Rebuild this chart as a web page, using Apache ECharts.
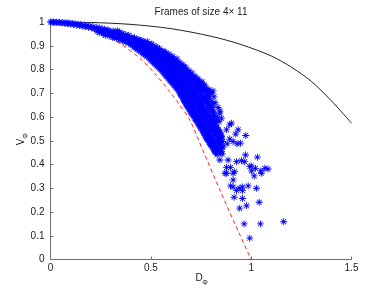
<!DOCTYPE html>
<html>
<head>
<meta charset="utf-8">
<script src="https://cdn.jsdelivr.net/npm/echarts@6/dist/echarts.min.js"></script>
<style>
html,body{margin:0;padding:0;background:#fff;}
#chart{width:389px;height:292px;}
</style>
</head>
<body>
<div id="chart"></div>
<script>
// ---- data ----
const titleText = 'Frames of size 4\u00d7 11';
const xTickValues = [0, 0.5, 1, 1.5];
const yTickValues = [0, 0.1, 0.2, 0.3, 0.4, 0.5, 0.6, 0.7, 0.8, 0.9, 1];

// black solid upper curve
const upperCurve = [[0,1],[0.2,0.998],[0.4,0.99],[0.6,0.972],[0.8,0.94],[0.95,0.905],[1.1,0.857],[1.2,0.81],[1.3,0.75],[1.4,0.668],[1.5,0.574]];
// red dashed lower curve
const lowerCurve = [[0,1],[0.12,0.987],[0.254,0.953],[0.345,0.91],[0.455,0.84],[0.528,0.775],[0.594,0.707],[0.644,0.65],[0.694,0.588],[0.759,0.46],[0.843,0.295],[0.92,0.148],[1,0]];

// dense band of frames
const denseFrames = [
[0,1],[0.008,0.999],[0.015,1],[0.022,0.998],[0.03,0.999],[0.038,0.997],[0.045,0.999],[0.055,0.996],[0.062,0.998],[0.07,0.995],[0.078,0.997],[0.085,0.993],[0.092,0.996],[0.1,0.992],[0.108,0.995],[0.115,0.99],[0.122,0.993],[0.13,0.987],[0.138,0.991],[0.145,0.985],[0.152,0.989],[0.16,0.983],[0.168,0.987],[0.175,0.98],[0.182,0.985],[0.19,0.978],[0.198,0.983],[0.205,0.975],[0.212,0.98],[0.22,0.972],[0.228,0.978],[0.236,0.969],[0.244,0.975],[0.25,0.966],[0.258,0.972],[0.27,0.969],[0.285,0.966],
[0.232,0.961],[0.255,0.958],[0.278,0.962],[0.30,0.957],[0.322,0.96],[0.345,0.956],
[0.262,0.951],[0.285,0.948],[0.308,0.952],[0.33,0.947],[0.352,0.95],[0.375,0.946],
[0.292,0.941],[0.315,0.938],[0.338,0.942],[0.36,0.937],[0.382,0.94],[0.405,0.936],
[0.33,0.931],[0.352,0.928],[0.375,0.932],[0.397,0.927],[0.418,0.93],[0.44,0.926],
[0.36,0.921],[0.382,0.918],[0.405,0.922],[0.427,0.917],[0.448,0.92],[0.468,0.915],
[0.39,0.911],[0.412,0.908],[0.434,0.912],[0.456,0.907],[0.476,0.91],[0.492,0.905],
[0.41,0.901],[0.432,0.898],[0.454,0.902],[0.476,0.897],[0.497,0.9],[0.515,0.895],
[0.422,0.891],[0.445,0.888],[0.468,0.892],[0.49,0.887],[0.512,0.89],[0.535,0.885],
[0.44,0.881],[0.462,0.878],[0.485,0.882],[0.507,0.877],[0.53,0.88],[0.553,0.876],
[0.456,0.871],[0.478,0.868],[0.5,0.872],[0.522,0.867],[0.545,0.87],[0.568,0.866],
[0.47,0.861],[0.492,0.858],[0.515,0.862],[0.538,0.857],[0.56,0.86],[0.584,0.856],
[0.49,0.851],[0.512,0.848],[0.534,0.852],[0.556,0.847],[0.578,0.85],[0.6,0.846],
[0.50,0.841],[0.522,0.838],[0.545,0.842],[0.568,0.837],[0.59,0.84],[0.614,0.836],
[0.512,0.831],[0.535,0.828],[0.558,0.832],[0.58,0.827],[0.603,0.83],[0.628,0.826],
[0.525,0.821],[0.548,0.818],[0.57,0.822],[0.593,0.817],[0.616,0.82],[0.643,0.816],
[0.536,0.811],[0.558,0.808],[0.58,0.812],[0.604,0.807],[0.628,0.81],[0.658,0.806],
[0.55,0.801],[0.572,0.798],[0.595,0.802],[0.618,0.797],[0.642,0.8],[0.672,0.796],
[0.56,0.791],[0.583,0.788],[0.606,0.792],[0.63,0.787],[0.655,0.79],[0.683,0.786],
[0.57,0.781],[0.593,0.778],[0.617,0.782],[0.64,0.777],[0.665,0.78],[0.693,0.776],
[0.58,0.771],[0.603,0.768],[0.627,0.772],[0.65,0.767],[0.676,0.77],[0.704,0.766],
[0.59,0.761],[0.613,0.758],[0.637,0.762],[0.66,0.757],[0.686,0.76],[0.714,0.756],
[0.60,0.751],[0.623,0.748],[0.647,0.752],[0.672,0.747],[0.698,0.75],[0.728,0.746],
[0.61,0.741],[0.634,0.738],[0.658,0.742],[0.683,0.737],[0.71,0.74],[0.738,0.736],
[0.62,0.731],[0.644,0.728],[0.668,0.732],[0.693,0.727],[0.72,0.73],[0.748,0.726],
[0.63,0.721],[0.654,0.718],[0.678,0.722],[0.703,0.717],[0.73,0.72],[0.758,0.716],
[0.64,0.711],[0.664,0.708],[0.688,0.712],[0.714,0.707],[0.742,0.71],[0.77,0.706],
[0.646,0.701],[0.67,0.698],[0.695,0.702],[0.72,0.697],[0.748,0.7],[0.78,0.696],
[0.652,0.691],[0.676,0.688],[0.7,0.692],[0.726,0.687],[0.754,0.69],[0.79,0.686],
[0.66,0.681],[0.684,0.678],[0.708,0.682],[0.734,0.677],[0.762,0.68],
[0.665,0.671],[0.69,0.668],[0.715,0.672],[0.742,0.667],[0.772,0.67],[0.8,0.666],
[0.672,0.661],[0.697,0.658],[0.722,0.662],[0.75,0.657],[0.78,0.66],
[0.678,0.651],[0.703,0.648],[0.73,0.652],[0.757,0.647],[0.79,0.65],[0.81,0.655],
[0.686,0.641],[0.71,0.638],[0.737,0.642],[0.765,0.637],[0.795,0.64],
[0.694,0.631],[0.718,0.628],[0.745,0.632],[0.772,0.627],[0.80,0.63],
[0.70,0.621],[0.726,0.618],[0.752,0.622],[0.78,0.617],[0.815,0.62],
[0.708,0.611],[0.734,0.608],[0.76,0.612],[0.788,0.607],
[0.716,0.601],[0.742,0.598],[0.768,0.602],[0.796,0.597],[0.83,0.6],
[0.724,0.591],[0.75,0.588],[0.776,0.592],[0.805,0.587],
[0.73,0.581],[0.756,0.578],[0.784,0.582],[0.812,0.577],[0.84,0.58],
[0.738,0.571],[0.764,0.568],[0.79,0.572],[0.82,0.567],
[0.745,0.561],[0.77,0.558],[0.798,0.562],[0.826,0.557],
[0.752,0.551],[0.778,0.548],[0.805,0.552],[0.835,0.547],
[0.76,0.541],[0.785,0.538],[0.812,0.542],[0.84,0.537],
[0.766,0.531],[0.792,0.528],[0.82,0.532],[0.848,0.527],
[0.772,0.521],[0.798,0.518],[0.825,0.522],[0.852,0.517],
[0.778,0.511],[0.804,0.508],[0.832,0.512],
[0.786,0.501],[0.81,0.498],[0.838,0.502],[0.858,0.497],
[0.794,0.491],[0.82,0.488],[0.845,0.492],
[0.80,0.481],[0.826,0.478],[0.852,0.482],
[0.81,0.471],[0.836,0.468],[0.858,0.472],
[0.816,0.461],[0.842,0.458],
[0.822,0.451],[0.85,0.448],
[0.83,0.441],[0.856,0.445]
];

// frames lying between the rows of the band above
const denseFramesFill = [
[0.245,0.964],[0.268,0.965],[0.29,0.963],[0.312,0.962],[0.335,0.963],
[0.243,0.955],[0.266,0.953],[0.29,0.955],[0.312,0.953],[0.335,0.954],[0.36,0.952],
[0.273,0.944],[0.296,0.946],[0.32,0.943],[0.342,0.945],[0.364,0.943],[0.39,0.944],
[0.31,0.935],[0.33,0.933],[0.35,0.935],[0.372,0.933],[0.394,0.935],[0.418,0.934],
[0.345,0.925],[0.366,0.923],[0.388,0.926],[0.41,0.923],[0.432,0.925],[0.455,0.922],
[0.375,0.915],[0.396,0.913],[0.418,0.916],[0.44,0.913],[0.462,0.915],[0.482,0.918],
[0.4,0.905],[0.422,0.903],[0.444,0.906],[0.466,0.903],[0.487,0.905],[0.505,0.908],
[0.416,0.895],[0.44,0.893],[0.462,0.896],[0.484,0.893],[0.505,0.895],[0.526,0.898],
[0.432,0.885],[0.455,0.883],[0.476,0.886],[0.498,0.883],[0.52,0.885],[0.543,0.888],
[0.448,0.875],[0.47,0.873],[0.492,0.876],[0.514,0.873],[0.537,0.875],[0.56,0.878],
[0.463,0.865],[0.485,0.863],[0.508,0.866],[0.53,0.863],[0.552,0.865],[0.576,0.868],
[0.48,0.855],[0.502,0.853],[0.524,0.856],[0.546,0.853],[0.568,0.855],[0.592,0.858],
[0.495,0.845],[0.517,0.843],[0.54,0.846],[0.562,0.843],[0.584,0.845],[0.607,0.848],
[0.506,0.835],[0.528,0.833],[0.551,0.836],[0.574,0.833],[0.596,0.835],[0.62,0.838],
[0.518,0.825],[0.54,0.823],[0.563,0.826],[0.586,0.823],[0.61,0.825],[0.635,0.828],
[0.53,0.815],[0.552,0.813],[0.575,0.816],[0.598,0.813],[0.622,0.815],[0.65,0.818],
[0.543,0.805],[0.565,0.803],[0.588,0.806],[0.61,0.803],[0.635,0.805],[0.663,0.808],
[0.555,0.795],[0.578,0.793],[0.6,0.796],[0.624,0.793],[0.648,0.795],[0.676,0.798],
[0.565,0.785],[0.588,0.783],[0.611,0.786],[0.635,0.783],[0.66,0.785],[0.688,0.788],
[0.575,0.775],[0.598,0.773],[0.622,0.776],[0.645,0.773],[0.67,0.775],[0.698,0.778],
[0.585,0.765],[0.608,0.763],[0.632,0.766],[0.655,0.763],[0.68,0.765],[0.708,0.768],[0.728,0.762],
[0.595,0.755],[0.618,0.753],[0.642,0.756],[0.666,0.753],[0.692,0.755],[0.72,0.758],[0.74,0.75],
[0.605,0.745],[0.628,0.743],[0.652,0.746],[0.677,0.743],[0.704,0.745],[0.732,0.748],[0.752,0.742],
[0.615,0.735],[0.638,0.733],[0.662,0.736],[0.688,0.733],[0.715,0.735],[0.742,0.738],[0.762,0.732],
[0.625,0.725],[0.648,0.723],[0.672,0.726],[0.698,0.723],[0.725,0.725],[0.752,0.728],[0.775,0.722],
[0.635,0.715],[0.659,0.713],[0.683,0.716],[0.708,0.713],[0.736,0.715],[0.764,0.718],[0.785,0.712],
[0.643,0.705],[0.667,0.703],[0.692,0.706],[0.717,0.703],[0.745,0.705],[0.774,0.708],[0.798,0.703],
[0.649,0.695],[0.673,0.693],[0.698,0.696],[0.723,0.693],[0.751,0.695],[0.784,0.692],
[0.656,0.685],[0.68,0.683],[0.704,0.686],[0.73,0.683],[0.758,0.685],[0.776,0.682],
[0.662,0.675],[0.687,0.673],[0.712,0.676],[0.738,0.673],[0.766,0.675],[0.79,0.677],
[0.668,0.665],[0.693,0.663],[0.718,0.666],[0.746,0.663],[0.776,0.665],
[0.675,0.655],[0.7,0.653],[0.726,0.656],[0.754,0.653],[0.785,0.655],
[0.682,0.645],[0.706,0.643],[0.733,0.646],[0.761,0.643],[0.792,0.645],[0.808,0.642],
[0.69,0.635],[0.714,0.633],[0.741,0.636],[0.768,0.633],[0.798,0.635],
[0.697,0.625],[0.722,0.623],[0.748,0.626],[0.776,0.623],[0.808,0.625],
[0.704,0.615],[0.73,0.613],[0.756,0.616],[0.784,0.613],[0.81,0.61],
[0.712,0.605],[0.738,0.603],[0.764,0.606],[0.792,0.603],[0.818,0.605],
[0.72,0.595],[0.746,0.593],[0.772,0.596],[0.8,0.593],[0.825,0.59],
[0.727,0.585],[0.753,0.583],[0.78,0.586],[0.808,0.583],[0.83,0.586],
[0.734,0.575],[0.76,0.573],[0.787,0.576],[0.816,0.573],
[0.742,0.565],[0.767,0.563],[0.794,0.566],[0.823,0.563],
[0.748,0.555],[0.774,0.553],[0.802,0.556],[0.83,0.553],
[0.756,0.545],[0.782,0.543],[0.808,0.546],[0.838,0.543],
[0.763,0.535],[0.788,0.533],[0.816,0.536],[0.844,0.533],
[0.769,0.525],[0.795,0.523],[0.822,0.526],[0.85,0.523],
[0.775,0.515],[0.801,0.513],[0.828,0.516],
[0.782,0.505],[0.807,0.503],[0.835,0.506],[0.855,0.508],
[0.79,0.495],[0.815,0.493],[0.842,0.496],
[0.797,0.485],[0.823,0.483],[0.849,0.486],
[0.805,0.475],[0.831,0.473],[0.855,0.476],
[0.813,0.465],[0.839,0.463],
[0.819,0.455],[0.846,0.453]
];

// ragged upper edge of the band
const edgeFrames = [
[0.57,0.875],[0.59,0.865],[0.61,0.855],[0.63,0.845],[0.645,0.83],[0.66,0.82],[0.675,0.81],[0.69,0.795],
[0.705,0.785],[0.72,0.772],[0.735,0.76],[0.755,0.748],[0.768,0.735]
];

// scattered frames away from the band
const sparseFrames = [
[0.80,0.70],[0.815,0.685],[0.82,0.66],[0.835,0.64],[0.79,0.715],[0.845,0.625],[0.81,0.71],
[0.844,0.616],[0.852,0.595],[0.893,0.567],[0.877,0.546],[0.935,0.546],[0.973,0.522],[0.923,0.528],
[0.893,0.507],[0.91,0.497],[0.88,0.487],[0.93,0.487],[0.852,0.454],[0.972,0.44],[1.031,0.431],
[0.844,0.419],[0.885,0.419],[0.927,0.412],[0.968,0.412],[0.993,0.391],[0.877,0.387],[0.897,0.387],
[1.021,0.384],[1.068,0.384],[1.084,0.381],[1.002,0.373],[1.048,0.373],[0.87,0.363],[0.918,0.37],
[1.015,0.352],[0.91,0.335],[0.897,0.31],[0.91,0.305],[0.94,0.30],[0.957,0.305],[0.985,0.31],
[1.026,0.30],[0.927,0.29],[0.957,0.29],[0.915,0.262],[0.957,0.257],[1.04,0.241],[0.977,0.226],
[0.943,0.216],[0.965,0.150],[1.046,0.150],[1.162,0.159],[0.993,0.09],[0.902,0.574],[0.947,0.49],
[1.0,0.394],[0.952,0.416],[1.051,0.363],[0.877,0.363],[0.91,0.363]
];

// ---- chart ----
const asterisk = 'path://M4.4 0H5.6V10H4.4Z M0 4.4H10V5.6H0Z M1.1 1.9L1.9 1.1L8.9 8.1L8.1 8.9Z M8.1 1.1L8.9 1.9L1.9 8.9L1.1 8.1Z';
const FONT = 'Liberation Sans, Arial, Helvetica, sans-serif';
const chart = echarts.init(document.getElementById('chart'), null, {renderer: 'canvas'});

const gridL = 50.5, gridR = 37.5, gridT = 22, gridB = 32.5;
const axisColor = '#6e6e6e';
const markStyle = {color: '#0000ff', opacity: 1};

const option = {
  animation: false,
  backgroundColor: '#ffffff',
  grid: {left: gridL, right: gridR, top: gridT, bottom: gridB, containLabel: false},
  xAxis: {
    type: 'value', min: xTickValues[0], max: xTickValues[xTickValues.length - 1], interval: 0.5,
    axisLine: {show: true, onZero: false, lineStyle: {color: axisColor, width: 1}},
    axisTick: {show: true, inside: true, length: 3, lineStyle: {color: axisColor}},
    axisLabel: {color: '#222', fontSize: 10, fontFamily: FONT, margin: 4, showMinLabel: true, showMaxLabel: true},
    splitLine: {show: false}
  },
  yAxis: {
    type: 'value', min: yTickValues[0], max: yTickValues[yTickValues.length - 1], interval: 0.1,
    axisLine: {show: true, onZero: false, lineStyle: {color: axisColor, width: 1}},
    axisTick: {show: true, inside: true, length: 3, lineStyle: {color: axisColor}},
    axisLabel: {color: '#222', fontSize: 10, fontFamily: FONT, margin: 6, showMinLabel: true, showMaxLabel: true},
    splitLine: {show: false}
  },
  series: [
    {
      type: 'line', data: upperCurve, smooth: 0.3, showSymbol: false, symbol: 'none',
      lineStyle: {color: '#222', width: 1}, z: 2, silent: true
    },
    {
      type: 'line', data: lowerCurve, smooth: 0.3, showSymbol: false, symbol: 'none',
      lineStyle: {color: '#ff2020', width: 1, type: [4, 3]}, z: 2, silent: true
    },
    {type: 'scatter', data: denseFrames, symbol: asterisk, symbolSize: 7, itemStyle: markStyle, z: 3, silent: true},
    {type: 'scatter', data: denseFramesFill, symbol: asterisk, symbolSize: 7, itemStyle: markStyle, z: 3, silent: true},
    {type: 'scatter', data: edgeFrames, symbol: asterisk, symbolSize: 7, itemStyle: markStyle, z: 3, silent: true},
    {type: 'scatter', data: sparseFrames, symbol: asterisk, symbolSize: 7, itemStyle: markStyle, z: 3, silent: true}
  ],
  graphic: [
    {type: 'text', x: 201, y: 12, style: {text: titleText, fill: '#222', fontSize: 10, fontFamily: FONT, textAlign: 'center', textVerticalAlign: 'middle'}},
    {type: 'text', x: 199, y: 278, style: {text: 'D', fill: '#222', fontSize: 10, fontFamily: FONT, textAlign: 'center', textVerticalAlign: 'middle'}},
    {type: 'text', x: 205, y: 283, style: {text: '\u03a6', fill: '#222', fontSize: 7, fontFamily: FONT, textAlign: 'center', textVerticalAlign: 'middle'}},
    {type: 'group', x: 21, y: 142, rotation: Math.PI / 2, children: [
      {type: 'text', x: 0, y: 0, style: {text: 'V', fill: '#222', fontSize: 10, fontFamily: FONT, textAlign: 'center', textVerticalAlign: 'middle'}},
      {type: 'text', x: 6, y: 5, style: {text: '\u03a6', fill: '#222', fontSize: 7, fontFamily: FONT, textAlign: 'center', textVerticalAlign: 'middle'}}
    ]}
  ]
};
chart.setOption(option);
</script>
</body>
</html>
